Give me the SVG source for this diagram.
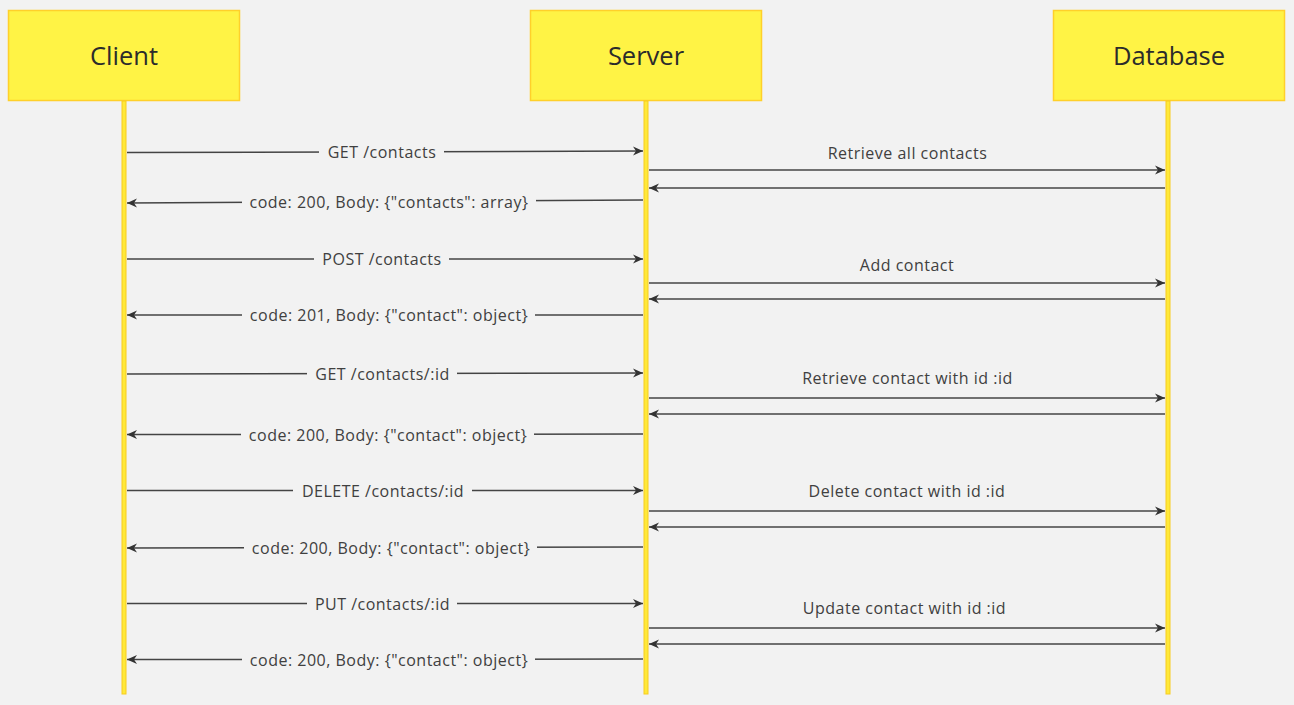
<svg xmlns="http://www.w3.org/2000/svg" width="1294" height="705" viewBox="0 0 1294 705">
<style>
.bg{fill:#f2f2f2}
.box{fill:#fff345;stroke:#ffd02a;stroke-width:1.5}
.life{fill:#ffe93a;stroke:#f7cc1f;stroke-width:1}
.title{font-family:"Open Sans","Noto Sans",sans-serif;font-size:25.5px;fill:#2b2b2b;text-anchor:middle}
.lbl{font-family:"Open Sans","Noto Sans",sans-serif;font-size:16px;letter-spacing:0.5px;fill:#404040;text-anchor:middle}
.msg{stroke:#444;stroke-width:1.5;fill:none}
.gap{fill:#f2f2f2}
</style>
<defs>
<marker id="ah" viewBox="0 0 10 10" refX="10" refY="5" markerWidth="10" markerHeight="10" markerUnits="userSpaceOnUse" orient="auto">
<path d="M0,0.5 L10,5 L0,9.5 L3,5 z" fill="#333"/>
</marker>
</defs>
<rect class="bg" x="0" y="0" width="1294" height="705"/>
<g id="client">
<rect class="box" x="8.5" y="10.5" width="231" height="90"/>
<text class="title" x="124" y="65">Client</text>
<rect class="life" x="122" y="101" width="4" height="593"/>
</g>
<g id="server">
<rect class="box" x="530.5" y="10.5" width="231" height="90"/>
<text class="title" x="646" y="65">Server</text>
<rect class="life" x="644" y="101" width="4" height="593"/>
</g>
<g id="database">
<rect class="box" x="1053.5" y="10.5" width="231" height="90"/>
<text class="title" x="1169" y="65">Database</text>
<rect class="life" x="1166" y="101" width="4" height="593"/>
</g>
<g id="connectors">
<!-- row 1 -->
<line class="msg" x1="127" y1="152.5" x2="643" y2="151" marker-end="url(#ah)"/>
<rect class="gap" x="319" y="142" width="125" height="20"/>
<text class="lbl" x="382" y="157.5">GET /contacts</text>
<line class="msg" x1="649" y1="170" x2="1165" y2="170" marker-end="url(#ah)"/>
<text class="lbl" x="907.5" y="158.5">Retrieve all contacts</text>
<line class="msg" x1="1165" y1="188" x2="649" y2="188" marker-end="url(#ah)"/>
<line class="msg" x1="643" y1="200" x2="127" y2="203" marker-end="url(#ah)"/>
<rect class="gap" x="242" y="191" width="294" height="20"/>
<text class="lbl" x="389" y="207.5">code: 200, Body: {"contacts": array}</text>
<!-- row 2 -->
<line class="msg" x1="127" y1="259" x2="643" y2="259" marker-end="url(#ah)"/>
<rect class="gap" x="314" y="249" width="135" height="20"/>
<text class="lbl" x="382" y="264.5">POST /contacts</text>
<line class="msg" x1="649" y1="283" x2="1165" y2="283" marker-end="url(#ah)"/>
<text class="lbl" x="907" y="270.5">Add contact</text>
<line class="msg" x1="1165" y1="299" x2="649" y2="299" marker-end="url(#ah)"/>
<line class="msg" x1="643" y1="315" x2="127" y2="315" marker-end="url(#ah)"/>
<rect class="gap" x="242" y="305" width="293" height="20"/>
<text class="lbl" x="389" y="320.5">code: 201, Body: {"contact": object}</text>
<!-- row 3 -->
<line class="msg" x1="127" y1="374" x2="643" y2="373" marker-end="url(#ah)"/>
<rect class="gap" x="307" y="363" width="150" height="20"/>
<text class="lbl" x="382.5" y="379.5">GET /contacts/:id</text>
<line class="msg" x1="649" y1="398" x2="1165" y2="398" marker-end="url(#ah)"/>
<text class="lbl" x="907.5" y="383.5">Retrieve contact with id :id</text>
<line class="msg" x1="1165" y1="414" x2="649" y2="414" marker-end="url(#ah)"/>
<line class="msg" x1="643" y1="434" x2="127" y2="434.5" marker-end="url(#ah)"/>
<rect class="gap" x="241" y="424" width="293" height="20"/>
<text class="lbl" x="388" y="440.5">code: 200, Body: {"contact": object}</text>
<!-- row 4 -->
<line class="msg" x1="127" y1="490.5" x2="643" y2="490.5" marker-end="url(#ah)"/>
<rect class="gap" x="293" y="480" width="179" height="20"/>
<text class="lbl" x="383" y="496.5">DELETE /contacts/:id</text>
<line class="msg" x1="649" y1="511" x2="1165" y2="511" marker-end="url(#ah)"/>
<text class="lbl" x="907" y="496.5">Delete contact with id :id</text>
<line class="msg" x1="1165" y1="527" x2="649" y2="527" marker-end="url(#ah)"/>
<line class="msg" x1="643" y1="547" x2="127" y2="548" marker-end="url(#ah)"/>
<rect class="gap" x="244" y="537" width="293" height="20"/>
<text class="lbl" x="391" y="553.5">code: 200, Body: {"contact": object}</text>
<!-- row 5 -->
<line class="msg" x1="127" y1="603.5" x2="643" y2="603.5" marker-end="url(#ah)"/>
<rect class="gap" x="307" y="593" width="150" height="20"/>
<text class="lbl" x="382.5" y="609.5">PUT /contacts/:id</text>
<line class="msg" x1="649" y1="628" x2="1165" y2="628" marker-end="url(#ah)"/>
<text class="lbl" x="904.5" y="613.5">Update contact with id :id</text>
<line class="msg" x1="1165" y1="644" x2="649" y2="644" marker-end="url(#ah)"/>
<line class="msg" x1="643" y1="659" x2="127" y2="659.5" marker-end="url(#ah)"/>
<rect class="gap" x="242" y="649" width="293" height="20"/>
<text class="lbl" x="389" y="665.5">code: 200, Body: {"contact": object}</text>
</g>
</svg>
